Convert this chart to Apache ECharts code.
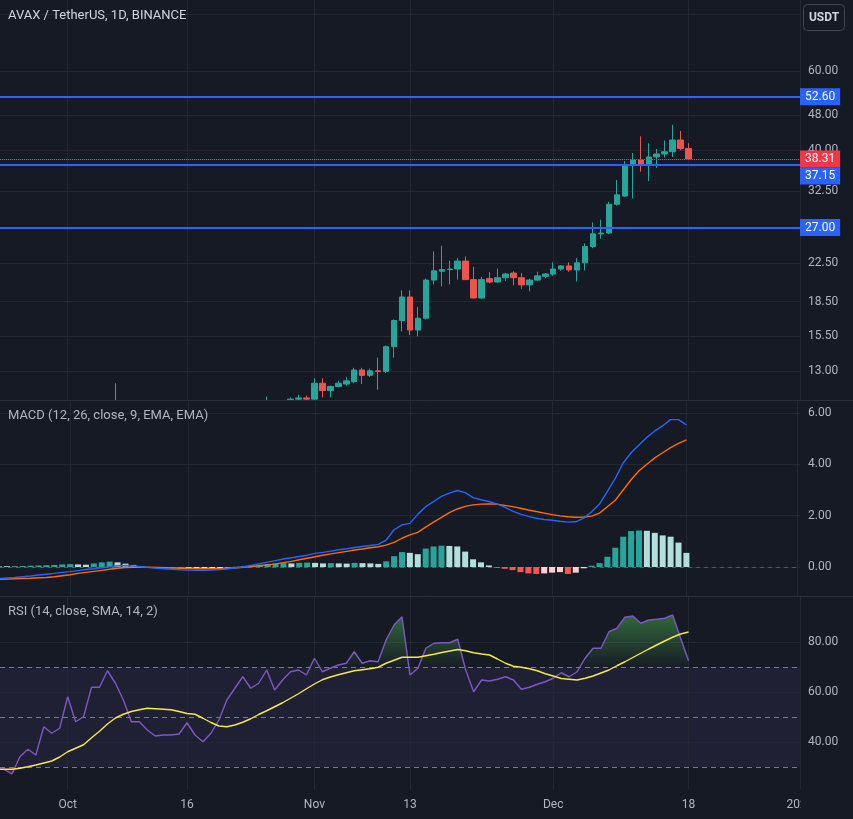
<!DOCTYPE html>
<html><head><meta charset="utf-8">
<script src="https://cdn.jsdelivr.net/npm/echarts@6/dist/echarts.min.js"></script>
<style>html,body{margin:0;padding:0;background:#161a25;}#c{width:853px;height:819px;}</style>
</head><body><div id="c"></div>
<script>
// ---------- data (daily, from 2023-09-22 to 2023-12-18) ----------
const firstDay = '2023-09-22';
const opens  = [9.25,9.20,9.15,8.95,9.10,9.20,9.12,9.45,9.38,9.44,9.90,9.60,9.65,9.95,9.96,10.25,10.05,9.80,9.45,9.45,9.35,9.22,9.24,9.24,9.26,9.45,9.22,9.10,9.25,9.50,9.85,10.05,10.40,10.20,10.35,10.65,10.30,10.95,11.25,11.32,11.25,12.20,11.75,12.00,12.15,12.30,13.05,12.70,13.00,12.95,14.70,16.80,18.95,16.00,17.00,20.65,21.60,21.80,21.85,22.75,20.70,18.85,20.80,20.45,20.90,21.40,20.90,20.15,20.65,21.05,21.30,21.85,22.20,21.75,22.55,24.50,26.15,26.25,30.40,31.70,37.20,38.10,37.30,38.70,39.30,39.75,42.20,40.40];
const highs  = [9.35,9.30,9.20,9.15,9.25,9.35,9.55,9.55,9.50,9.95,10.10,9.75,10.00,10.05,10.40,12.20,10.15,9.85,9.60,9.50,9.40,9.35,9.30,9.32,9.70,9.50,9.30,9.30,9.60,9.95,10.15,10.50,10.70,10.50,11.40,10.75,11.00,11.35,11.50,11.45,12.50,12.50,12.05,12.35,12.60,13.20,13.20,13.15,13.90,14.80,16.90,19.60,19.60,18.00,20.80,23.90,24.60,22.80,23.10,23.30,22.10,21.00,21.50,21.90,21.45,21.60,21.40,20.80,21.55,21.40,22.60,22.30,22.60,23.10,24.90,27.70,28.10,30.80,34.40,37.90,39.50,43.00,41.50,40.30,42.10,45.60,44.20,41.50];
const lows   = [9.15,9.10,8.90,8.85,9.00,9.05,9.10,9.30,9.35,9.40,9.50,9.45,9.55,9.80,9.90,9.95,9.70,9.35,9.35,9.20,9.10,9.15,9.18,9.18,9.22,9.15,9.05,9.00,9.20,9.45,9.75,9.95,10.05,10.10,10.30,10.20,10.25,10.85,11.10,10.95,11.15,11.35,11.35,11.95,12.05,12.20,12.15,12.60,11.80,12.85,13.90,15.90,15.60,15.50,16.90,20.20,20.00,20.20,20.70,20.65,18.80,18.75,20.30,20.35,20.55,20.10,19.75,19.50,20.55,20.85,21.10,21.65,21.55,20.50,21.70,24.30,25.50,26.10,30.20,31.60,31.30,35.90,34.20,36.60,38.60,38.70,40.00,38.20];
const closes = [9.20,9.15,8.95,9.10,9.20,9.12,9.45,9.38,9.44,9.90,9.60,9.65,9.95,9.96,10.25,10.05,9.80,9.45,9.45,9.35,9.22,9.24,9.24,9.26,9.45,9.22,9.10,9.25,9.50,9.85,10.05,10.40,10.20,10.35,10.65,10.30,10.95,11.25,11.32,11.25,12.20,11.75,12.00,12.20,12.35,13.05,12.70,13.00,12.95,14.70,16.80,18.95,16.00,17.00,20.65,21.65,21.80,21.85,22.75,20.70,18.85,20.70,20.45,20.90,21.30,20.90,20.15,20.65,21.10,21.30,21.85,22.20,21.75,22.55,24.50,26.15,26.25,30.40,31.90,37.20,38.10,37.30,38.70,39.30,39.75,42.20,40.40,38.31];

const macdLine   = [-0.45,-0.43,-0.41,-0.38,-0.35,-0.31,-0.28,-0.25,-0.21,-0.18,-0.14,-0.10,-0.07,-0.03,0.01,0.05,0.06,0.04,0.01,-0.02,-0.05,-0.07,-0.09,-0.11,-0.12,-0.13,-0.13,-0.12,-0.10,-0.07,-0.03,0.01,0.07,0.13,0.19,0.25,0.31,0.36,0.41,0.46,0.53,0.57,0.62,0.67,0.71,0.76,0.80,0.84,0.88,1.05,1.45,1.64,1.70,2.05,2.35,2.55,2.75,2.88,2.98,2.90,2.70,2.62,2.55,2.46,2.33,2.18,2.06,1.97,1.90,1.85,1.82,1.78,1.75,1.76,1.90,2.15,2.45,2.95,3.45,4.05,4.45,4.75,5.05,5.30,5.50,5.74,5.74,5.54];
const signalLine = [-0.48,-0.47,-0.46,-0.45,-0.44,-0.42,-0.41,-0.38,-0.34,-0.30,-0.25,-0.21,-0.17,-0.13,-0.09,-0.05,-0.02,-0.01,-0.01,-0.01,-0.02,-0.03,-0.04,-0.05,-0.06,-0.07,-0.07,-0.07,-0.07,-0.05,-0.03,-0.01,0.02,0.05,0.08,0.12,0.17,0.22,0.28,0.34,0.40,0.46,0.51,0.56,0.61,0.66,0.70,0.75,0.79,0.85,0.96,1.12,1.25,1.35,1.55,1.75,1.93,2.12,2.26,2.36,2.42,2.45,2.46,2.45,2.40,2.35,2.29,2.22,2.16,2.10,2.04,1.99,1.96,1.94,1.95,1.98,2.10,2.35,2.60,3.00,3.40,3.75,4.00,4.25,4.45,4.65,4.82,4.95];
const histogram  = [0.04,0.03,0.02,0.04,0.05,0.06,0.07,0.08,0.10,0.11,0.10,0.09,0.14,0.18,0.21,0.18,0.13,0.08,0.03,-0.01,-0.03,-0.05,-0.06,-0.07,-0.07,-0.06,-0.06,-0.05,-0.04,-0.02,0.01,0.04,0.07,0.09,0.12,0.14,0.15,0.14,0.16,0.17,0.16,0.14,0.15,0.14,0.13,0.16,0.15,0.14,0.12,0.22,0.42,0.58,0.55,0.50,0.72,0.80,0.83,0.82,0.80,0.60,0.30,0.18,0.06,-0.03,-0.07,-0.12,-0.20,-0.25,-0.27,-0.25,-0.22,-0.20,-0.27,-0.22,-0.05,0.05,0.15,0.40,0.75,1.18,1.40,1.42,1.41,1.33,1.23,1.18,0.95,0.55];

const rsi   = [29.6,29.0,27.2,34.1,37.1,34.8,46.1,43.5,45.5,58.1,48.1,50.1,61.9,61.9,68.5,63.5,56.8,48.1,48.1,44.8,42.4,42.8,42.8,43.2,47.7,42.8,40.1,43.5,48.8,56.8,61.5,66.1,61.5,63.5,68.8,60.8,64.8,68.1,68.8,66.8,73.5,68.1,69.5,70.8,71.5,76.1,71.5,72.5,72.1,80.8,86.8,90.1,66.8,69.5,77.5,79.5,79.7,79.7,81.1,68.8,60.1,64.8,64.4,65.1,66.1,64.8,61.1,61.9,63.1,64.1,65.5,67.7,66.1,68.1,73.5,77.5,77.5,84.1,85.5,89.9,90.4,87.5,88.8,89.1,89.5,90.8,81.5,72.5];
const rsiMA = [29.0,29.1,29.1,29.5,30.1,30.8,31.6,32.4,34.0,36.1,37.5,38.9,41.7,44.3,47.2,49.6,51.1,52.2,52.9,53.5,53.3,53.1,52.9,52.2,51.4,51.1,49.5,47.8,46.4,46.1,46.8,47.9,49.3,51.0,52.5,54.1,55.7,57.5,59.3,61.3,63.2,64.9,66.0,66.9,67.7,68.5,68.9,69.3,69.9,71.5,72.7,73.9,73.9,73.9,74.5,75.1,75.8,76.4,77.0,76.5,75.7,75.2,74.8,73.2,71.5,70.3,69.9,69.3,68.5,67.3,66.4,65.4,65.1,64.8,65.5,66.4,67.6,68.8,70.5,72.1,73.8,75.5,77.2,78.8,80.4,81.9,83.2,84.0];

const priceTicks = [13, 15.5, 18.5, 22.5, 32.5, 40, 48, 60];
const priceGridOnly = [80];
const levelLines = [52.60, 37.15, 27.00];
const lastPrice = 38.31;
const macdTicks = [0, 2, 4, 6];
const rsiTicks = [40, 60, 80];
const rsiLevels = [70, 50, 30];
const timeTickDates  = ['2023-10-01','2023-10-16','2023-11-01','2023-11-13','2023-12-01','2023-12-18','2024-01-01'];
const timeTickLabels = ['Oct','16','Nov','13','Dec','18','2024'];

// ---------- helpers ----------
const DAY = 86400000;
const toTs = s => { const [y,m,d] = s.split('-').map(Number); return Date.UTC(y, m-1, d); };
const t0 = toTs(firstDay);
const dates = closes.map((_, i) => t0 + i * DAY);
const tickTs = timeTickDates.map(toTs);
const xMax = toTs('2024-01-01');
const xMin = xMax - 100.5 * DAY;

const FONT = 'Roboto, "Noto Sans", sans-serif';
const BG = '#161a25', GRID = '#232733', TXT = '#b2b5be';
const UP = '#26a69a', DOWN = '#ef5350';

const candleData = dates.map((t,i)=>[t, opens[i], closes[i], lows[i], highs[i]]);
const histData = dates.map((t,i)=>[t, histogram[i]]);
const histColor = i => {
  const v = histogram[i], p = i > 0 ? histogram[i-1] : v;
  if (v >= 0) return v >= p ? '#26a69a' : '#b2dfdb';
  return v < p ? '#ff5252' : '#ffcdd2';
};
const pair = arr => dates.map((t,i)=>[t, arr[i]]);
const obData = dates.map((t,i)=>[t, Math.max(rsi[i], 70)]);
const osData = dates.map((t,i)=>[t, Math.min(rsi[i], 30)]);

const vLines = (withLabels) => tickTs.map((t, i) => ({
  xAxis: t,
  label: withLabels ? {
    show: true, position: 'start', distance: 9, color: TXT, fontSize: 12, fontFamily: FONT,
    formatter: () => timeTickLabels[i]
  } : { show: false }
}));
const gridSeries = (k, ticks, extra, fmt, z) => ({
  type: 'line', xAxisIndex: k, yAxisIndex: k, data: [], silent: true, z: z,
  markLine: {
    silent: true, symbol: ['none','none'], animation: false, z: z,
    lineStyle: { color: GRID, type: 'solid', width: 1 },
    label: { show: true, position: 'end', distance: 8, color: TXT, fontSize: 12, fontFamily: FONT,
             formatter: p => fmt(p.value) },
    data: ticks.map(v => ({ yAxis: v }))
      .concat(extra.map(v => ({ yAxis: v, label: { show: false } })))
      .concat(vLines(k === 2))
  }
});

const boxLabel = (bg) => ({
  show: true, position: 'end', distance: 0, color: '#ffffff', fontSize: 12, fontFamily: FONT,
  backgroundColor: bg, padding: [2, 5, 2, 5], lineHeight: 13,
  formatter: p => p.value.toFixed(2)
});

const option = {
  backgroundColor: BG,
  animation: false,
  textStyle: { fontFamily: FONT },
  grid: [
    { left: 0, right: 53, top: 0, height: 400 },
    { left: 0, right: 53, top: 400, height: 196 },
    { left: 0, right: 53, top: 596, height: 194 }
  ],
  xAxis: [0,1,2].map(k => ({
    type: 'time', gridIndex: k, min: xMin, max: xMax,
    axisLine: { show: false }, axisTick: { show: false }, splitLine: { show: false },
    axisLabel: { show: false }
  })),
  yAxis: [
    { type: 'log', gridIndex: 0, min: 11.2, max: 86.2, position: 'right',
      axisLine:{show:false}, axisTick:{show:false}, axisLabel:{show:false}, splitLine:{show:false} },
    { type: 'value', gridIndex: 1, min: -1.13, max: 6.506, position: 'right',
      axisLine:{show:false}, axisTick:{show:false}, axisLabel:{show:false}, splitLine:{show:false} },
    { type: 'value', gridIndex: 2, min: 20.8, max: 98.4, position: 'right',
      axisLine:{show:false}, axisTick:{show:false}, axisLabel:{show:false}, splitLine:{show:false} }
  ],
  series: [
    // ----- price pane -----
    gridSeries(0, priceTicks, priceGridOnly, v => v.toFixed(2), 1),
    {
      type: 'candlestick', xAxisIndex: 0, yAxisIndex: 0, z: 2, clip: true,
      encode: { x: 0, y: [1, 2, 3, 4] },
      barWidth: 6,
      itemStyle: { color: UP, color0: DOWN, borderColor: UP, borderColor0: DOWN, borderWidth: 1 },
      data: candleData
    },
    {
      type: 'line', xAxisIndex: 0, yAxisIndex: 0, data: [], z: 3,
      markLine: {
        silent: true, symbol: ['none','none'], animation: false, z: 3,
        lineStyle: { color: '#2962ff', width: 2, type: 'solid' },
        data: levelLines.map(v => ({
          yAxis: v,
          label: Object.assign(boxLabel('#2962ff'), v === 37.15 ? { offset: [0, 11] } : {})
        }))
      }
    },
    {
      type: 'line', xAxisIndex: 0, yAxisIndex: 0, data: [], z: 4,
      markLine: {
        silent: true, symbol: ['none','none'], animation: false, z: 4,
        lineStyle: { color: '#f23645', width: 1, type: 'dotted' },
        data: [{ yAxis: lastPrice, label: boxLabel('#f23645') }]
      }
    },
    // ----- MACD pane -----
    gridSeries(1, macdTicks, [], v => v.toFixed(2), 6),
    {
      type: 'line', xAxisIndex: 1, yAxisIndex: 1, data: [], z: 6,
      markLine: {
        silent: true, symbol: ['none','none'], animation: false, z: 6,
        lineStyle: { color: 'rgba(120,123,134,0.6)', width: 1, type: [4, 4] },
        label: { show: false },
        data: [{ yAxis: 0 }]
      }
    },
    {
      type: 'bar', xAxisIndex: 1, yAxisIndex: 1, z: 7, barWidth: 6,
      data: histData,
      itemStyle: { color: p => histColor(p.dataIndex) }
    },
    {
      type: 'line', xAxisIndex: 1, yAxisIndex: 1, z: 8, data: pair(signalLine),
      showSymbol: false, lineStyle: { color: '#ff6d00', width: 1.4 }
    },
    {
      type: 'line', xAxisIndex: 1, yAxisIndex: 1, z: 9, data: pair(macdLine),
      showSymbol: false, lineStyle: { color: '#2962ff', width: 1.4 }
    },
    // ----- RSI pane -----
    gridSeries(2, rsiTicks, [], v => v.toFixed(2), 6),
    {
      type: 'line', xAxisIndex: 2, yAxisIndex: 2, data: [], z: 6,
      markArea: {
        silent: true, z: 6,
        itemStyle: { color: 'rgba(126,87,194,0.1)' },
        data: [[{ yAxis: 30 }, { yAxis: 70 }]]
      },
      markLine: {
        silent: true, symbol: ['none','none'], animation: false, z: 7,
        lineStyle: { color: 'rgba(150,153,165,0.75)', width: 1, type: [5, 4] },
        label: { show: false },
        data: rsiLevels.map(v => ({ yAxis: v }))
      }
    },
    {
      type: 'line', xAxisIndex: 2, yAxisIndex: 2, z: 7, data: obData, showSymbol: false,
      lineStyle: { width: 0 },
      areaStyle: {
        origin: 70,
        color: { type: 'linear', x: 0, y: 0, x2: 0, y2: 1, colorStops: [
          { offset: 0, color: 'rgba(76,175,80,0.75)' }, { offset: 1, color: 'rgba(76,175,80,0.03)' } ] }
      }
    },
    {
      type: 'line', xAxisIndex: 2, yAxisIndex: 2, z: 7, data: osData, showSymbol: false,
      lineStyle: { width: 0 },
      areaStyle: {
        origin: 30,
        color: { type: 'linear', x: 0, y: 0, x2: 0, y2: 1, colorStops: [
          { offset: 0, color: 'rgba(242,54,69,0.03)' }, { offset: 1, color: 'rgba(242,54,69,0.6)' } ] }
      }
    },
    {
      type: 'line', xAxisIndex: 2, yAxisIndex: 2, z: 8, data: pair(rsi),
      showSymbol: false, lineStyle: { color: '#7e57c2', width: 1.4 }
    },
    {
      type: 'line', xAxisIndex: 2, yAxisIndex: 2, z: 9, data: pair(rsiMA),
      showSymbol: false, lineStyle: { color: '#f5e94b', width: 1.4 }
    }
  ],
  graphic: [
    // background of the lower panes, hiding candle parts that spill out of the price pane
    { type: 'rect', shape: { x: 0, y: 401, width: 853, height: 418 }, style: { fill: BG }, z: 5 },
    { type: 'line', shape: { x1: 0, y1: 400.5, x2: 853, y2: 400.5 }, style: { stroke: '#2a2e39', lineWidth: 1 }, z: 50 },
    { type: 'line', shape: { x1: 0, y1: 596.5, x2: 853, y2: 596.5 }, style: { stroke: '#2a2e39', lineWidth: 1 }, z: 50 },
    { type: 'rect', shape: { x: 801, y: 791, width: 52, height: 28 }, style: { fill: BG }, z: 60 },
    { type: 'text', left: 8, top: 9, style: { text: 'AVAX / TetherUS, 1D, BINANCE', fill: '#d1d4dc', font: '13px ' + FONT }, z: 60 },
    { type: 'text', left: 8, top: 409, style: { text: 'MACD (12, 26, close, 9, EMA, EMA)', fill: TXT, font: '13px ' + FONT }, z: 60 },
    { type: 'text', left: 8, top: 605, style: { text: 'RSI (14, close, SMA, 14, 2)', fill: TXT, font: '13px ' + FONT }, z: 60 },
    { type: 'rect', shape: { x: 803.5, y: 4.5, width: 41, height: 26, r: 4 }, style: { fill: BG, stroke: '#434651', lineWidth: 1 }, z: 60 },
    { type: 'text', x: 824, y: 17.5, style: { text: 'USDT', fill: '#d1d4dc', font: 'bold 12px ' + FONT, align: 'center', verticalAlign: 'middle' }, z: 61 }
  ]
};

const chart = echarts.init(document.getElementById('c'), null, { renderer: 'canvas' });
chart.setOption(option);
</script>
</body></html>
